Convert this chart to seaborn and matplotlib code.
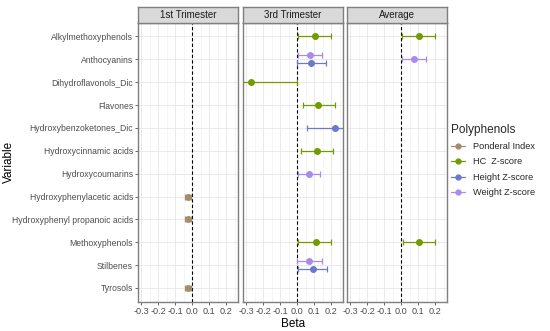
import matplotlib
matplotlib.use("Agg")
import matplotlib.pyplot as plt
import matplotlib.ticker as ticker
from matplotlib.lines import Line2D
import pandas as pd
import seaborn as sns

# Categories (top to bottom) and panels
variables = ["Alkylmethoxyphenols", "Anthocyanins", "Dihydroflavonols_Dic", "Flavones",
             "Hydroxybenzoketones_Dic", "Hydroxycinnamic acids", "Hydroxycoumarins",
             "Hydroxyphenylacetic acids", "Hydroxyphenyl propanoic acids", "Methoxyphenols",
             "Stilbenes", "Tyrosols"]
panels = ["1st Trimester", "3rd Trimester", "Average"]
outcomes = ["Ponderal Index", "HC  Z-score", "Height Z-score", "Weight Z-score"]

# Estimates
rec_panel = ["1st Trimester", "1st Trimester", "1st Trimester",
             "3rd Trimester", "3rd Trimester", "3rd Trimester", "3rd Trimester", "3rd Trimester",
             "3rd Trimester", "3rd Trimester", "3rd Trimester", "3rd Trimester", "3rd Trimester",
             "3rd Trimester",
             "Average", "Average", "Average"]
rec_var = ["Hydroxyphenylacetic acids", "Hydroxyphenyl propanoic acids", "Tyrosols",
           "Alkylmethoxyphenols", "Anthocyanins", "Anthocyanins", "Dihydroflavonols_Dic", "Flavones",
           "Hydroxybenzoketones_Dic", "Hydroxycinnamic acids", "Hydroxycoumarins", "Methoxyphenols",
           "Stilbenes", "Stilbenes",
           "Alkylmethoxyphenols", "Anthocyanins", "Methoxyphenols"]
rec_out = ["Ponderal Index", "Ponderal Index", "Ponderal Index",
           "HC  Z-score", "Weight Z-score", "Height Z-score", "HC  Z-score", "HC  Z-score",
           "Height Z-score", "HC  Z-score", "Weight Z-score", "HC  Z-score",
           "Weight Z-score", "Height Z-score",
           "HC  Z-score", "Weight Z-score", "HC  Z-score"]
beta = [-0.024, -0.024, -0.024,
        0.105, 0.078, 0.082, -0.27, 0.124, 0.22, 0.114, 0.07, 0.108, 0.07, 0.094,
        0.106, 0.078, 0.104]
lower = [-0.042, -0.042, -0.042,
         0.004, 0.004, 0.0, -0.54, 0.034, 0.056, 0.02, 0.004, 0.006, 0.0, 0.004,
         0.004, 0.004, 0.01]
upper = [-0.008, -0.008, -0.008,
         0.20, 0.146, 0.168, -0.002, 0.22, 0.38, 0.213, 0.134, 0.20, 0.144, 0.178,
         0.20, 0.146, 0.20]

df = pd.DataFrame({"panel": rec_panel, "Variable": rec_var, "outcome": rec_out,
                   "beta": beta, "lo": lower, "hi": upper})

colors = {"Ponderal Index": "#A58C6C", "HC  Z-score": "#739A00",
          "Height Z-score": "#6C78CC", "Weight Z-score": "#A88CEB"}
dodge = {"Weight Z-score": -0.17, "Height Z-score": 0.17}

sns.set_theme(style="white")
plt.rcParams["font.family"] = ["Liberation Sans", "DejaVu Sans"]

fig = plt.figure(figsize=(5.5, 3.31), dpi=100)
W, H = 550, 331
lefts = [138, 243, 347]
pw = 100
top, bot = 22.7, 301.7

for i, (pname, lx) in enumerate(zip(panels, lefts)):
    ax = fig.add_axes([lx / W, 1 - bot / H, pw / W, (bot - top) / H])
    sub = df[df["panel"] == pname]
    for _, r in sub.iterrows():
        y = variables.index(r["Variable"])
        # dodge only where two outcomes share a row
        n = ((sub["Variable"] == r["Variable"])).sum()
        if n > 1:
            y += dodge.get(r["outcome"], 0)
        c = colors[r["outcome"]]
        ax.errorbar(r["beta"], y, xerr=[[r["beta"] - r["lo"]], [r["hi"] - r["beta"]]],
                    fmt="o", color=c, ms=4, elinewidth=0.9, capsize=2.2, capthick=0.9,
                    zorder=3)
    ax.axvline(0, color="black", ls=(0, (3, 2)), lw=0.8, zorder=2)
    ax.set_xlim(-0.32, 0.27)
    ax.set_ylim(len(variables) - 1 + 0.6, -0.6)
    ax.xaxis.set_major_locator(ticker.FixedLocator([-0.3, -0.2, -0.1, 0.0, 0.1, 0.2]))
    ax.xaxis.set_minor_locator(ticker.MultipleLocator(0.05))
    ax.xaxis.set_major_formatter(ticker.FuncFormatter(lambda v, p: f"{v:.1f}"))
    ax.set_yticks(range(len(variables)))
    ax.grid(True, which="major", color="#E6E6E6", lw=0.6)
    ax.grid(True, which="minor", axis="x", color="#F2F2F2", lw=0.5)
    ax.set_axisbelow(True)
    for s in ax.spines.values():
        s.set_color("#7F7F7F")
        s.set_linewidth(1.0)
    ax.tick_params(axis="x", labelsize=6.6, colors="#4D4D4D", length=2, width=0.6,
                   direction="out", bottom=True, pad=1.5)
    ax.tick_params(axis="x", which="minor", bottom=False)
    if i == 0:
        ax.set_yticklabels(variables)
        ax.tick_params(axis="y", labelsize=6.2, colors="#4D4D4D", length=2, width=0.6,
                       left=True, pad=1.5)
    else:
        ax.set_yticklabels([])
        ax.tick_params(axis="y", left=False)
    if i == 1:
        ax.set_xlabel("Beta", fontsize=8.5, color="black", labelpad=2)

    # strip on top
    sax = fig.add_axes([lx / W, 1 - top / H, pw / W, 15.7 / H])
    sax.set_facecolor("#D9D9D9")
    sax.set_xticks([])
    sax.set_yticks([])
    for s in sax.spines.values():
        s.set_color("#7F7F7F")
        s.set_linewidth(1.0)
    sax.text(0.5, 0.5, pname, ha="center", va="center", fontsize=7,
             color="#1A1A1A", transform=sax.transAxes)

fig.text(9 / W, 1 - 162 / H, "Variable", rotation=90, ha="center", va="center",
         fontsize=8.5, color="black")

handles = [Line2D([0], [0], color=colors[o], marker="o", ms=3.5, lw=0.9) for o in outcomes]
leg = fig.legend(handles, outcomes, title="Polyphenols", loc="upper left",
                 bbox_to_anchor=(447 / W, 1 - 120 / H), frameon=False, fontsize=6.6,
                 title_fontsize=8.5, handlelength=1.6, labelspacing=0.7, borderaxespad=0)
leg._legend_box.align = "left"

fig.savefig("out.png", dpi=100)
